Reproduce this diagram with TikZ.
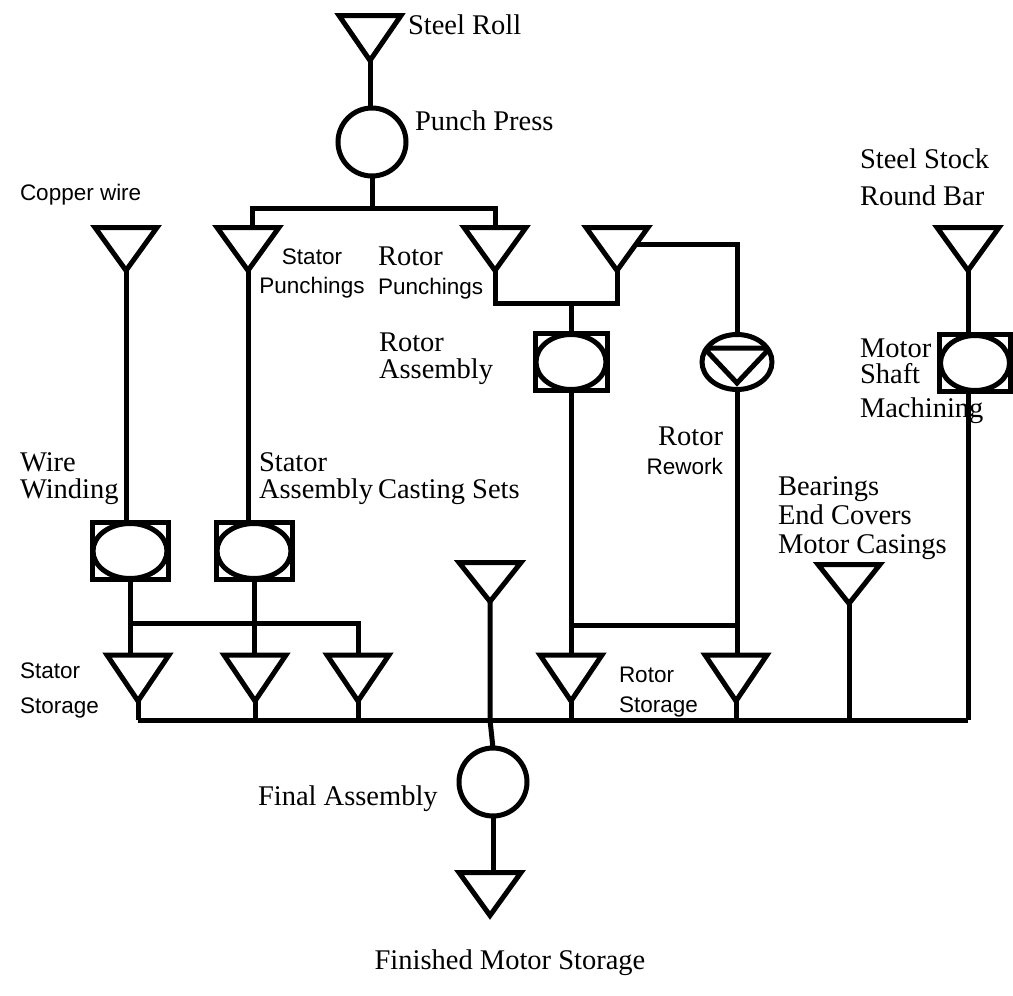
\documentclass[tikz,border=0pt]{standalone}
\usepackage{fontspec}
\setmainfont{Liberation Serif}
\setsansfont{Liberation Sans}
\usetikzlibrary{shapes.geometric,calc}

% Storage symbol: a triangle standing on its apex, with rectangle anchors
\makeatletter
\pgfdeclareshape{stocktri}{
  \inheritsavedanchors[from=rectangle]
  \inheritanchorborder[from=rectangle]
  \inheritanchor[from=rectangle]{center}
  \inheritanchor[from=rectangle]{north}
  \inheritanchor[from=rectangle]{south}
  \inheritanchor[from=rectangle]{east}
  \inheritanchor[from=rectangle]{west}
  \inheritanchor[from=rectangle]{north east}
  \inheritanchor[from=rectangle]{north west}
  \inheritanchor[from=rectangle]{south east}
  \inheritanchor[from=rectangle]{south west}
  \backgroundpath{
    \southwest \edef\stkxa{\the\pgf@x}\edef\stkya{\the\pgf@y}
    \northeast \edef\stkxb{\the\pgf@x}\edef\stkyb{\the\pgf@y}
    \pgfpathmoveto{\pgfpoint{\stkxa}{\stkyb}}
    \pgfpathlineto{\pgfpoint{\stkxb}{\stkyb}}
    \pgfpathlineto{\pgfpoint{0.5*\stkxa+0.5*\stkxb}{\stkya}}
    \pgfpathclose
  }
}
\makeatother

% serif and sans label fonts, optional argument = line spacing in pt
\newcommand{\rmtext}[1][29]{\rmfamily\fontsize{28.5}{#1}\selectfont}
\newcommand{\sftext}[1][29]{\sffamily\fontsize{22.5}{#1}\selectfont}

\tikzset{
  flow/.style={line width=5pt, line join=miter},
  store/.style={stocktri, draw, flow, inner sep=0pt, outer sep=0pt,
    minimum width=62pt, minimum height=43pt},
  oper/.style={circle, draw, flow, inner sep=0pt, outer sep=0pt, minimum size=68pt},
  boxoper/.style={rectangle, draw, flow, inner sep=0pt, outer sep=0pt,
    minimum width=#1pt, minimum height=57pt,
    path picture={\draw[line width=5pt] (path picture bounding box.center)
      ellipse [x radius={#1*0.5pt-1pt}, y radius=27.5pt];}},
  boxoper/.default=73,
  rework/.style={ellipse, draw, flow, inner sep=0pt, outer sep=0pt,
    minimum width=70pt, minimum height=55pt,
    path picture={\draw[line width=5pt, line join=miter]
      ([shift={(-33,-14)}]path picture bounding box.center) --
      ([shift={(33,-14)}]path picture bounding box.center) --
      ([shift={(0,21)}]path picture bounding box.center) -- cycle;}},
  lab/.style={inner sep=0pt, outer sep=0pt, font=\rmtext, align=left},
  slab/.style={inner sep=0pt, outer sep=0pt, font=\sftext, align=left},
}

\begin{document}
\begin{tikzpicture}[x=1pt, y=-1pt]
\useasboundingbox (0,0) rectangle (1013,996);

% ---- punching line ----
\node[store, minimum height=45pt] (sr) at (370,38) {};
\node[oper]  (pp) at (372,142) {};
\coordinate (b1) at (372,208);

\node[store] (cw)  at (126,249) {};
\node[store] (sp)  at (248,249) {};
\node[store] (rp)  at (495,249) {};
\node[store] (rp2) at (617,249) {};

\node[boxoper=72] (ra) at (571,362) {};
\node[rework]     (rw) at (737,362) {};
\coordinate (rj) at (571,303);

% ---- motor shaft ----
\node[store]      (ss) at (968,249) {};
\node[boxoper=71] (ms) at (975,363) {};

% ---- stator side ----
\node[boxoper=76] (ww) at (130,551) {};
\node[boxoper=76] (sa) at (254,551) {};
\coordinate (lx) at (0,623);
\coordinate (rx) at (0,625);
\coordinate (sx) at (252,0);

\node[store, minimum height=46pt] (st1) at (138,678) {};
\node[store, minimum height=46pt] (st2) at (255,678) {};
\node[store, minimum height=46pt] (st3) at (358,678) {};
\node[store, minimum height=46pt] (rs1) at (571,678) {};
\node[store, minimum height=46pt] (rs2) at (736,678) {};

\node[store, minimum height=39pt] (cs) at (490,582) {};
\node[store, minimum height=39pt] (bc) at (849,584) {};

\coordinate (bus) at (0,720);

% ---- final assembly ----
\node[oper] (fa) at (493,782) {};
\node[store] (fm) at (490,894) {};

% ---- connectors ----
\draw[flow] (sr.south) -- (sr.south |- pp.north);
\draw[flow] (pp.south) -- (b1);
\draw[flow] (sx |- sp.north) -- (sx |- b1) -- (rp.north |- b1) -- (rp.north);

\draw[flow] (rp.south) -- (rp.south |- rj) -- (rp2.south |- rj) -- (rp2.south);
\draw[flow] (ra.north) -- (ra.north |- rj);
\coordinate (rwk) at ($(rp2.north east)!0.4!(rp2.south)$);
\draw[flow] (rwk) -| (rw.north);

\draw[flow] (ra.south) -- (rs1.north);
\draw[flow] (rw.south) -- (rw.south |- rs2.north);
\draw[flow] (ra.south |- rx) -- (rw.south |- rx);

\draw[flow] (cw.south) -- (cw.south |- ww.north);
\draw[flow] (sp.south) -- (sp.south |- sa.north);
\draw[flow] (ww.south) -- (ww.south |- st1.north);
\draw[flow] (sa.south) -- (sa.south |- st2.north);
\draw[flow] (ww.south |- lx) -| (st3.north);

\draw[flow] (ss.south) -- (ss.south |- ms.north);
\draw[flow] (ss.south |- ms.south) -- (ss.south |- bus);

\foreach \n in {st1,st2,st3,rs1,rs2,bc}
  \draw[flow] (\n.south) -- (\n.south |- bus);
\draw[flow] (st1.south |- bus) -- (ss.south |- bus);

\draw[flow] (cs.south) -- (cs.south |- bus) -- (fa.north);
\draw[flow] (fa.south) -- (fa.south |- fm.north);

% ---- labels ----
\node[lab, anchor=west] (tsr) at (408,25) {Steel Roll};
\node[lab, anchor=west] (tpp) at (415,121) {Punch Press};
\node[slab, anchor=west] (tcw) at (20,195) {Copper wire};
\node[slab, align=center] (tsp) at (312,273) {Stator\\Punchings};
\node[slab, anchor=west] (trp) at (378,273) {{\rmtext Rotor}\\Punchings};
\node[lab, anchor=west, font={\rmtext[27]}] (tra) at (379,359) {Rotor\\Assembly};
\node[slab, anchor=east, align=right] (trw) at (723,451) {{\rmtext Rotor}\\Rework};
\node[lab, anchor=west, font={\rmtext[37]}] (tss) at (860,177) {Steel Stock\\Round Bar};
\node[lab, anchor=west] (tmo) at (860,348) {Motor};
\node[lab, anchor=west] (tsh) at (860,374) {Shaft};
\node[lab, anchor=west] (tmm) at (860,411) {Machining};
\node[lab, anchor=west, font={\rmtext[27]}] (tww) at (20,479) {Wire\\Winding};
\node[lab, anchor=west, font={\rmtext[27]}] (tsa) at (259,479) {Stator\\Assembly};
\node[lab, anchor=west] (tcs) at (378,492) {Casting Sets};
\node[lab, anchor=west] (tbc) at (778,518) {Bearings\\End Covers\\Motor Casings};
\node[slab, anchor=west, font={\sftext[35]}] (tst) at (20,690) {Stator\\Storage};
\node[slab, anchor=west, font={\sftext[30]}] (trs) at (619,692) {Rotor\\Storage};
\node[lab, anchor=west] (tfa) at (258,799) {Final Assembly};
\node[lab] (tfm) at (510,963) {Finished Motor Storage};
\end{tikzpicture}
\end{document}
